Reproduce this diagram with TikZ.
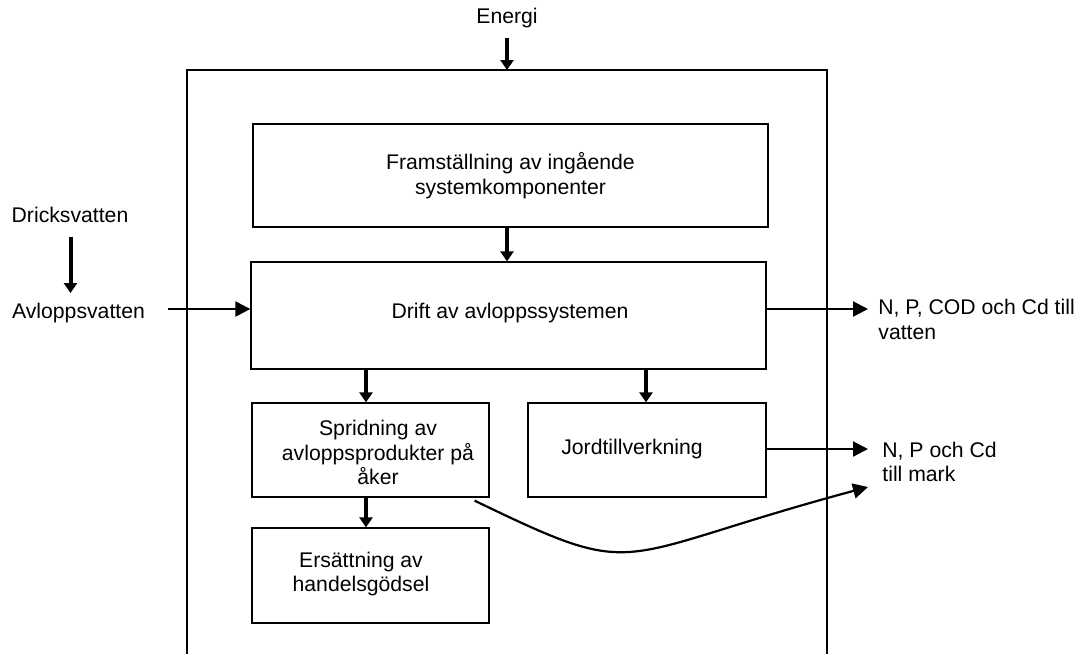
\documentclass[tikz,border=0pt]{standalone}
\usepackage{fontspec}
\setmainfont{Liberation Sans}
\usetikzlibrary{arrows.meta,calc}
\begin{document}
\begin{tikzpicture}[x=0.5pt,y=-0.5pt,
  font=\fontsize{10.6}{12.3}\selectfont,
  box/.style={draw,line width=0.65pt,inner sep=0pt},
  lbl/.style={inner sep=0pt,align=center},
  downarrow/.style={line width=2pt,-{Triangle[length=5pt,width=6.5pt]}},
  sidearrow/.style={line width=1.1pt,-{Triangle[length=7.5pt,width=7.5pt]}},
  frame/.style={line width=0.65pt}]
\useasboundingbox (0,0) rectangle (1080,654);

% system boundary, open at the bottom
\coordinate (fbl) at (187,654);
\coordinate (ftl) at (187,70);
\coordinate (ftr) at (827,70);
\coordinate (fbr) at (827,654);
\draw[frame] (fbl) -- (ftl) -- (ftr) -- (fbr);

% process boxes
\node[box,minimum width=257.5pt,minimum height=51.5pt] (fram) at (510.5,175.5) {};
\node[lbl] at (510.5,175.5) {Framställning av ingående\\systemkomponenter};
\node[box,minimum width=257.5pt,minimum height=53.5pt] (drift) at (508.5,315.5) {};
\node[lbl] at (510,313) {Drift av avloppssystemen};
\node[box,minimum width=118.5pt,minimum height=47pt] (sprid) at (370.5,450) {};
\node[lbl] at (378,452.5) {Spridning av\\avloppsprodukter på\\åker};
\node[box,minimum width=119pt,minimum height=47pt] (jord) at (647,450) {};
\node[lbl] at (632,449) {Jordtillverkning};
\node[box,minimum width=118.5pt,minimum height=47.5pt] (ers) at (370.5,575.5) {};
\node[lbl] at (361,574) {Ersättning av\\handelsgödsel};

% inputs and outputs
\node[lbl] (energi) at (507,18) {Energi};
\node[lbl] (dricks) at (70,215) {Dricksvatten};
\node[lbl] (avlopp) at (78.5,313) {Avloppsvatten};
\node[lbl,anchor=west,align=left] (vatten) at (878,319.5) {N, P, COD och Cd till\\vatten};
\node[lbl,anchor=west,align=left] (mark) at (882,462) {N, P och Cd\\till mark};

% columns of the vertical arrows
\coordinate (cmid) at (507,0);
\coordinate (cleft) at (366,0);
\coordinate (cright) at (646,0);

\draw[downarrow] (507,38) -- (ftl -| cmid);
\draw[downarrow] (fram.south -| cmid) -- (drift.north -| cmid);
\draw[downarrow] (drift.south -| cleft) -- (sprid.north -| cleft);
\draw[downarrow] (drift.south -| cright) -- (jord.north -| cright);
\draw[downarrow] (sprid.south -| cleft) -- (ers.north -| cleft);
\draw[downarrow] (dricks.south) ++(0.5,14) coordinate (dtop) -- (dtop |- 0,293);

% horizontal flows
\coordinate (avlstart) at (168,309);
\draw[sidearrow] (avlstart) -- (avlstart -| drift.west);
\coordinate (vatline) at (0,309);
\coordinate (vatend) at (868,309);
\draw[sidearrow] (drift.east |- vatline) -- (vatend);
\coordinate (markline) at (0,449);
\coordinate (markend) at (868,449);
\draw[sidearrow] (jord.east |- markline) -- (markend);

% spread products back to soil
\coordinate (curveend) at (868,487);
\draw[sidearrow] ($(sprid.south east)+(-15,3)$) .. controls (645,583) and (607,557) .. (curveend);
\end{tikzpicture}
\end{document}
